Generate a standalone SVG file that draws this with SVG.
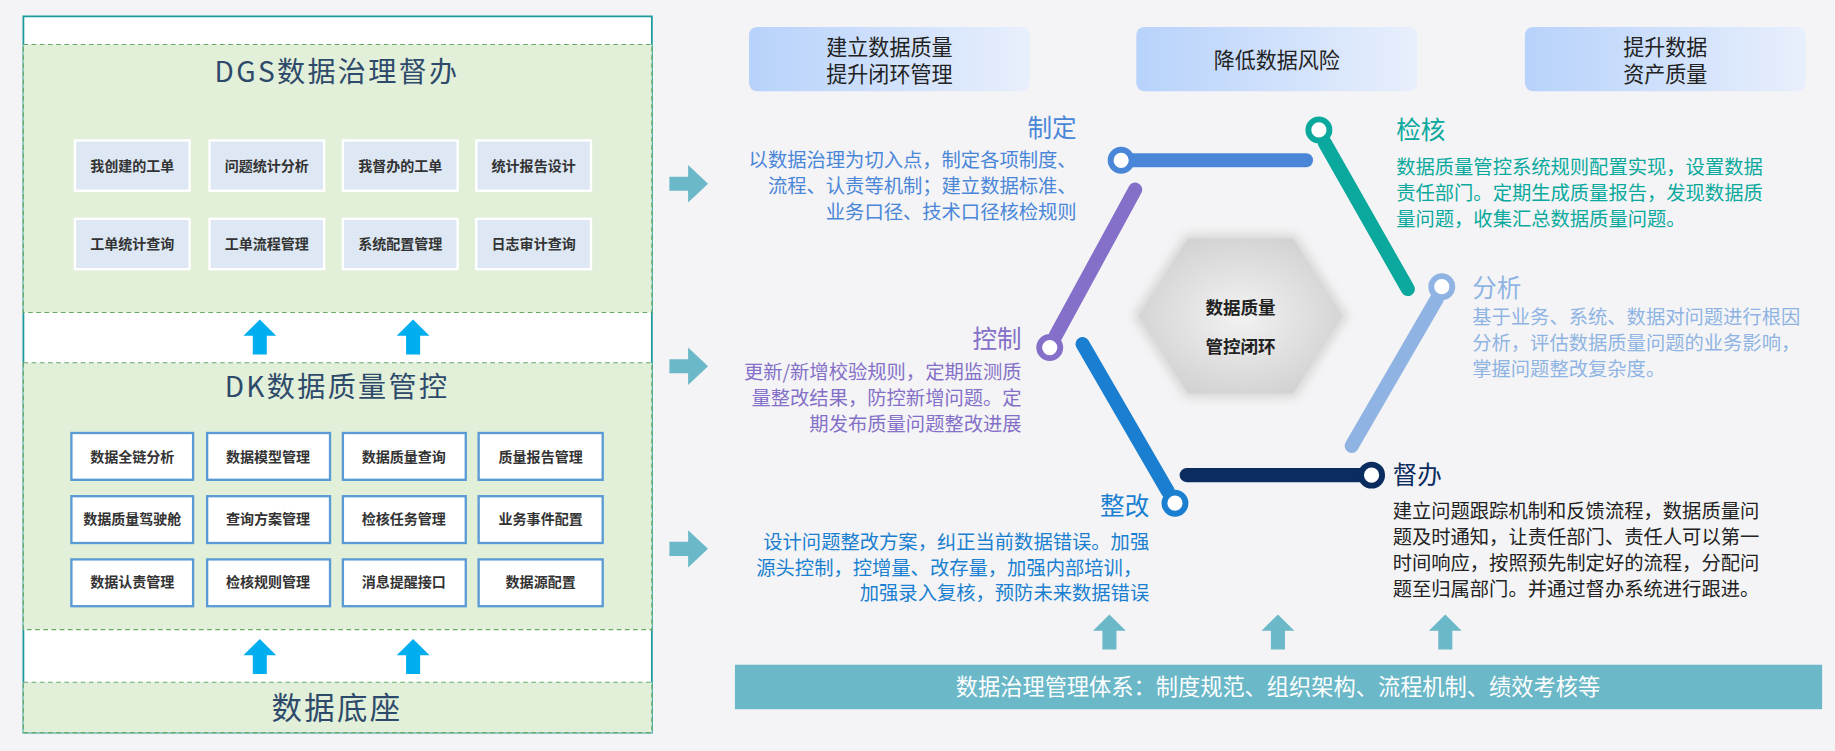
<svg xmlns="http://www.w3.org/2000/svg" width="1835" height="751" viewBox="0 0 1835 751">
<defs>
<style>
text{font-family:"Noto Sans CJK SC","Noto Sans",sans-serif}
.grn{fill:#e2efd9;stroke:#6aa86a;stroke-width:1;stroke-dasharray:4 3}
.b1{fill:#dde8f4;stroke:#fff;stroke-width:2}
.b2{fill:#fff;stroke:#5b9bd5;stroke-width:2}
.bt{font-size:12px;font-weight:bold;fill:#333;text-anchor:middle}
.ttl{font-size:24px;fill:#2e4a6a;text-anchor:middle;letter-spacing:2px}
.top{font-size:18px;fill:#222;text-anchor:middle}
.seg{stroke-width:12;stroke-linecap:round;fill:none}
.dot{fill:#fff;stroke-width:5}
.lbl{font-size:21px}
.d{font-size:16.5px}
</style>
<linearGradient id="tg" x1="0" y1="0" x2="1" y2="0"><stop offset="0" stop-color="#b7d2fb"/><stop offset="1" stop-color="#e8effc"/></linearGradient>
<radialGradient id="hg" cx="0.5" cy="0.5" r="0.6"><stop offset="0" stop-color="#f2f2f2"/><stop offset="1" stop-color="#cfcfcf"/></radialGradient>
<filter id="glow" x="-20%" y="-20%" width="140%" height="140%"><feGaussianBlur stdDeviation="4"/></filter>
<path id="ua" d="M-14,14 L0,0 L14,14 L6,14 L6,30 L-6,30 L-6,14 Z"/>
<path id="ra" d="M0,-6 L16,-6 L16,-16 L33,0 L16,16 L16,6 L0,6 Z"/>
</defs>
<rect width="1835" height="751" fill="#f4f4f6"/>
<g transform="scale(1.17028)">
<g id="left-panel">
<rect x="20" y="14" width="537" height="612" fill="#fff" stroke="#1a9a9a" stroke-width="1.5"/>
<rect class="grn" x="20" y="38" width="537" height="229"/>
<rect class="grn" x="20" y="310" width="537" height="228"/>
<rect class="grn" x="20" y="583" width="537" height="43"/>
</g>
<g id="dgs">
<text class="ttl" x="288" y="70">DGS数据治理督办</text>
<rect class="b1" x="64" y="120" width="98" height="43"/><text class="bt" x="113" y="146">我创建的工单</text>
<rect class="b1" x="179" y="120" width="98" height="43"/><text class="bt" x="228" y="146">问题统计分析</text>
<rect class="b1" x="293" y="120" width="98" height="43"/><text class="bt" x="342" y="146">我督办的工单</text>
<rect class="b1" x="407" y="120" width="98" height="43"/><text class="bt" x="456" y="146">统计报告设计</text>
<rect class="b1" x="64" y="187" width="98" height="43"/><text class="bt" x="113" y="213">工单统计查询</text>
<rect class="b1" x="179" y="187" width="98" height="43"/><text class="bt" x="228" y="213">工单流程管理</text>
<rect class="b1" x="293" y="187" width="98" height="43"/><text class="bt" x="342" y="213">系统配置管理</text>
<rect class="b1" x="407" y="187" width="98" height="43"/><text class="bt" x="456" y="213">日志审计查询</text>
</g>
<g id="dk">
<text class="ttl" x="288" y="339">DK数据质量管控</text>
<rect class="b2" x="61" y="370" width="104" height="40"/><text class="bt" x="113" y="395">数据全链分析</text>
<rect class="b2" x="177" y="370" width="105" height="40"/><text class="bt" x="229" y="395">数据模型管理</text>
<rect class="b2" x="293" y="370" width="105" height="40"/><text class="bt" x="345" y="395">数据质量查询</text>
<rect class="b2" x="409" y="370" width="106" height="40"/><text class="bt" x="462" y="395">质量报告管理</text>
<rect class="b2" x="61" y="424" width="104" height="40"/><text class="bt" x="113" y="448">数据质量驾驶舱</text>
<rect class="b2" x="177" y="424" width="105" height="40"/><text class="bt" x="229" y="448">查询方案管理</text>
<rect class="b2" x="293" y="424" width="105" height="40"/><text class="bt" x="345" y="448">检核任务管理</text>
<rect class="b2" x="409" y="424" width="106" height="40"/><text class="bt" x="462" y="448">业务事件配置</text>
<rect class="b2" x="61" y="478" width="104" height="40"/><text class="bt" x="113" y="502">数据认责管理</text>
<rect class="b2" x="177" y="478" width="105" height="40"/><text class="bt" x="229" y="502">检核规则管理</text>
<rect class="b2" x="293" y="478" width="105" height="40"/><text class="bt" x="345" y="502">消息提醒接口</text>
<rect class="b2" x="409" y="478" width="106" height="40"/><text class="bt" x="462" y="502">数据源配置</text>
</g>
<g id="base"><text class="ttl" x="288" y="614" style="font-size:26px">数据底座</text></g>
<g id="connectors">
<g fill="#00aeef">
<use href="#ua" x="222" y="273"/><use href="#ua" x="353" y="273"/>
<use href="#ua" x="222" y="546"/><use href="#ua" x="353" y="546"/>
</g>
<g fill="#6bb8c8">
<use href="#ra" x="572" y="157"/><use href="#ra" x="572" y="313"/><use href="#ra" x="572" y="469"/>
<use href="#ua" x="948" y="525"/><use href="#ua" x="1092" y="525"/><use href="#ua" x="1235" y="525"/>
</g>
<line class="seg" x1="962" y1="137" x2="1116" y2="137" stroke="#4a86d8"/>
<line class="seg" x1="1132" y1="122" x2="1203" y2="247" stroke="#0ba99d"/>
<line class="seg" x1="1228" y1="255" x2="1155" y2="381" stroke="#8fb4e3"/>
<line class="seg" x1="1014" y1="406" x2="1165" y2="406" stroke="#0b2c5e"/>
<line class="seg" x1="998" y1="420" x2="925" y2="294" stroke="#1a7fd0"/>
<line class="seg" x1="902" y1="287" x2="970" y2="162" stroke="#8470c8"/>
<circle class="dot" cx="958" cy="137" r="9" stroke="#4a86d8"/>
<circle class="dot" cx="1127" cy="111" r="9" stroke="#0ba99d"/>
<circle class="dot" cx="1232" cy="245" r="9" stroke="#8fb4e3"/>
<circle class="dot" cx="1172" cy="406" r="9" stroke="#0b2c5e"/>
<circle class="dot" cx="1004" cy="430" r="9" stroke="#1a7fd0"/>
<circle class="dot" cx="897" cy="297" r="9" stroke="#8470c8"/>
</g>
<g id="top-boxes">
<rect x="640" y="23" width="240" height="55" rx="7" fill="url(#tg)"/><text class="top" x="760" y="47">建立数据质量</text><text class="top" x="760" y="70">提升闭环管理</text>
<rect x="971" y="23" width="240" height="55" rx="7" fill="url(#tg)"/><text class="top" x="1091" y="58">降低数据风险</text>
<rect x="1303" y="23" width="240" height="55" rx="7" fill="url(#tg)"/><text class="top" x="1423" y="47">提升数据</text><text class="top" x="1423" y="70">资产质量</text>
</g>
<g id="center">
<polygon points="1013,200 1107,200 1152,270 1107,340 1013,340 968,270" fill="#d8d8d8" filter="url(#glow)"/>
<polygon points="1015,204 1105,204 1147,270 1105,336 1015,336 973,270" fill="url(#hg)"/>
<text x="1060" y="268" style="font-size:15px;font-weight:bold;fill:#222;text-anchor:middle">数据质量</text>
<text x="1060" y="302" style="font-size:15px;font-weight:bold;fill:#222;text-anchor:middle">管控闭环</text>
</g>
<g id="zhiding" fill="#4a86d8" text-anchor="end">
<text class="lbl" x="920" y="117">制定</text>
<text class="d" x="920" y="143">以数据治理为切入点，制定各项制度、</text>
<text class="d" x="920" y="165">流程、认责等机制；建立数据标准、</text>
<text class="d" x="920" y="187">业务口径、技术口径核检规则</text>
</g>
<g id="jianhe" fill="#0ba99d">
<text class="lbl" x="1193" y="119">检核</text>
<text class="d" x="1193" y="149">数据质量管控系统规则配置实现，设置数据</text>
<text class="d" x="1193" y="171">责任部门。定期生成质量报告，发现数据质</text>
<text class="d" x="1193" y="193">量问题，收集汇总数据质量问题。</text>
</g>
<g id="fenxi" fill="#8fb4e3">
<text class="lbl" x="1258" y="254">分析</text>
<text class="d" x="1258" y="277">基于业务、系统、数据对问题进行根因</text>
<text class="d" x="1258" y="299">分析，评估数据质量问题的业务影响，</text>
<text class="d" x="1258" y="321">掌握问题整改复杂度。</text>
</g>
<g id="kongzhi" fill="#8470c8" text-anchor="end">
<text class="lbl" x="873" y="297">控制</text>
<text class="d" x="873" y="324">更新/新增校验规则，定期监测质</text>
<text class="d" x="873" y="346">量整改结果，防控新增问题。定</text>
<text class="d" x="873" y="368">期发布质量问题整改进展</text>
</g>
<g id="duban">
<text class="lbl" x="1190" y="414" fill="#0b2c5e">督办</text>
<g fill="#222"><text class="d" x="1190" y="443">建立问题跟踪机制和反馈流程，数据质量问</text>
<text class="d" x="1190" y="465">题及时通知，让责任部门、责任人可以第一</text>
<text class="d" x="1190" y="487">时间响应，按照预先制定好的流程，分配问</text>
<text class="d" x="1190" y="509">题至归属部门。并通过督办系统进行跟进。</text></g>
</g>
<g id="zhenggai" fill="#1a7fd0" text-anchor="end">
<text class="lbl" x="982" y="440">整改</text>
<text class="d" x="982" y="469">设计问题整改方案，纠正当前数据错误。加强</text>
<text class="d" x="976" y="491">源头控制，控增量、改存量，加强内部培训，</text>
<text class="d" x="982" y="513">加强录入复核，预防未来数据错误</text>
</g>
<g id="bottom-bar">
<rect x="628" y="568" width="929" height="38" fill="#6bb8c8"/>
<text x="1092" y="594" style="font-size:19px;fill:#fff;text-anchor:middle">数据治理管理体系：制度规范、组织架构、流程机制、绩效考核等</text>
</g>
</g>
</svg>
